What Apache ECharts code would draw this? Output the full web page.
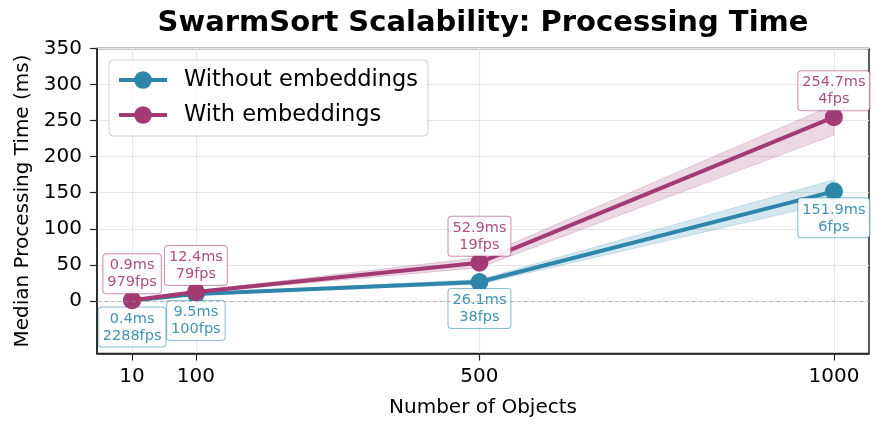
<!DOCTYPE html>
<html>
<head>
<meta charset="utf-8">
<script src="https://cdn.jsdelivr.net/npm/echarts@6/dist/echarts.min.js"></script>
<style>
  html, body { margin: 0; padding: 0; background: #fff; }
  #chart { width: 884px; height: 432px; }
</style>
</head>
<body>
<div id="chart"></div>
<script>
// data
var objects = [10, 100, 500, 1000]
var xTicks = [10, 100, 500, 1000]
var yTicks = [0, 50, 100, 150, 200, 250, 300, 350]

var noEmbMs = [0.4, 9.5, 26.1, 151.9]
var noEmbFps = [2288, 100, 38, 6]
var noEmbLow = [0.3, 8.5, 23, 137]
var noEmbHigh = [0.5, 10.5, 29.5, 168]

var embMs = [0.9, 12.4, 52.9, 254.7]
var embFps = [979, 79, 19, 4]
var embLow = [0.7, 11, 46, 230]
var embHigh = [1.1, 14, 60, 272]

var BLUE = '#2E86AB'
var PINK = '#A23B72'
var FONT = 'DejaVu Sans'

let pairs = (xs, ys) => xs.map((x, i) => [x, ys[i]])

// shaded band between lo and hi, drawn as one polygon through the axis scales
let bandSeries = (color, lo, hi) => ({
  type: 'custom',
  silent: true,
  z: 1,
  data: objects.map((x, i) => [x, lo[i], hi[i]]),
  encode: { x: 0, y: [1, 2] },
  renderItem: (params, api) => {
    if (params.dataIndex !== 0) return null
    let top = objects.map((x, i) => api.coord([x, hi[i]]))
    let bottom = objects.map((x, i) => api.coord([x, lo[i]])).reverse()
    return {
      type: 'polygon',
      shape: { points: top.concat(bottom) },
      style: { fill: color, opacity: 0.2, stroke: color, lineWidth: 1 }
    }
  }
})

let boxLabel = (color, border, fps, pos, dist) => ({
  show: true,
  position: pos,
  distance: dist,
  fontFamily: FONT,
  fontSize: 14.5,
  lineHeight: 17,
  color: color,
  backgroundColor: 'rgba(255,255,255,0.9)',
  borderColor: border,
  borderWidth: 1,
  borderRadius: 3,
  padding: [3, 4, 2, 4],
  formatter: (p) => p.value[1].toFixed(1) + 'ms\n' + fps[p.dataIndex] + 'fps'
})

var Chart = echarts.init(document.getElementById('chart'))
var option = {
  animation: false,
  backgroundColor: '#fff',
  title: {
    text: 'SwarmSort Scalability: Processing Time',
    left: 483,
    top: 9,
    padding: 0,
    textAlign: 'center',
    textStyle: { fontFamily: FONT, fontSize: 29, fontWeight: 'bold', color: '#000' }
  },
  legend: {
    data: ['Without embeddings', 'With embeddings'],
    orient: 'vertical',
    left: 109,
    top: 60,
    padding: [7, 10, 8, 8],
    itemWidth: 48,
    itemHeight: 22,
    itemGap: 9,
    lineStyle: { width: 4 },
    backgroundColor: 'rgba(255,255,255,0.8)',
    borderColor: '#d0d0d0',
    borderWidth: 1,
    borderRadius: 4,
    textStyle: {
      fontFamily: FONT,
      fontSize: 22.5,
      lineHeight: 26,
      color: '#000',
      padding: [0, 0, 0, 12]
    }
  },
  grid: {
    left: 97,
    right: 15,
    top: 48.5,
    bottom: 78.5,
    show: true,
    borderColor: '#222',
    borderWidth: 1.5,
    backgroundColor: 'transparent'
  },
  xAxis: {
    type: 'value',
    min: -39.5,
    max: 1049.5,
    name: 'Number of Objects',
    nameLocation: 'middle',
    nameGap: 44,
    nameTextStyle: { fontFamily: FONT, fontSize: 20, color: '#000' },
    axisLine: { onZero: false, lineStyle: { color: '#222', width: 1.5 } },
    axisTick: { customValues: xTicks, length: 7, lineStyle: { color: '#222', width: 1.2 } },
    axisLabel: {
      customValues: xTicks, margin: 13, fontFamily: FONT, fontSize: 20, color: '#000',
      formatter: (v) => String(v)
    },
    splitLine: { show: true, lineStyle: { color: '#e6e6e6', width: 1.2 } }
  },
  yAxis: {
    type: 'value',
    min: -73,
    max: 350,
    name: 'Median Processing Time (ms)',
    nameLocation: 'middle',
    nameGap: 63,
    nameTextStyle: { fontFamily: FONT, fontSize: 20, color: '#000' },
    axisLine: { onZero: false, lineStyle: { color: '#222', width: 1.5 } },
    axisTick: { customValues: yTicks, length: 7, lineStyle: { color: '#222', width: 1.2 } },
    axisLabel: { customValues: yTicks, margin: 15, fontFamily: FONT, fontSize: 20, color: '#000' },
    splitLine: { show: true, lineStyle: { color: '#e6e6e6', width: 1.2 } }
  },
  series: [
    bandSeries(BLUE, noEmbLow, noEmbHigh),
    bandSeries(PINK, embLow, embHigh),
    {
      name: 'Without embeddings',
      type: 'line',
      data: pairs(objects, noEmbMs),
      symbol: 'circle',
      symbolSize: 18,
      color: BLUE,
      lineStyle: { width: 4, color: BLUE },
      itemStyle: { color: BLUE },
      label: boxLabel('rgba(46,134,171,0.9)', 'rgba(46,134,171,0.55)', noEmbFps, 'bottom', -2),
      labelLayout: { hideOverlap: false },
      markLine: {
        silent: true,
        symbol: 'none',
        label: { show: false },
        lineStyle: { color: '#999', type: [4, 3], width: 1, opacity: 0.6 },
        data: [{ yAxis: 0 }]
      },
      z: 3
    },
    {
      name: 'With embeddings',
      type: 'line',
      data: pairs(objects, embMs),
      symbol: 'circle',
      symbolSize: 18,
      color: PINK,
      lineStyle: { width: 4, color: PINK },
      itemStyle: { color: PINK },
      label: boxLabel('rgba(162,59,114,0.9)', 'rgba(162,59,114,0.55)', embFps, 'top', -2),
      labelLayout: { hideOverlap: false },
      z: 4
    }
  ]
}
Chart.setOption(option)
</script>
</body>
</html>
